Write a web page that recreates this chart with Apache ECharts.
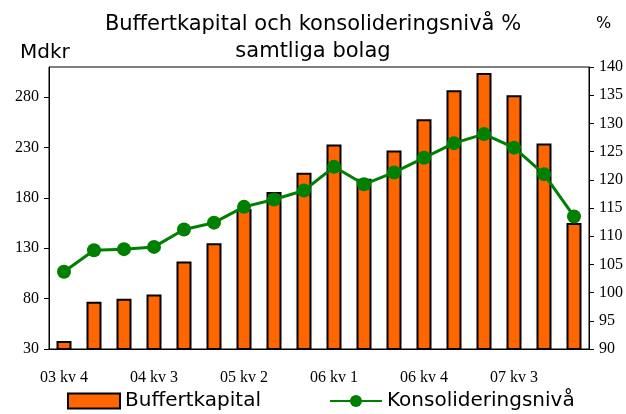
<!DOCTYPE html>
<html>
<head>
<meta charset="utf-8">
<script src="https://cdn.jsdelivr.net/npm/echarts@6/dist/echarts.min.js"></script>
<style>
  html, body { margin: 0; padding: 0; background: #fff; }
  #chart { width: 626px; height: 414px; }
</style>
</head>
<body>
<div id="chart"></div>
<script>
// quarters
const categories = [
  '03 kv 4', '04 kv 1', '04 kv 2', '04 kv 3', '04 kv 4', '05 kv 1', '05 kv 2', '05 kv 3', '05 kv 4',
  '06 kv 1', '06 kv 2', '06 kv 3', '06 kv 4', '07 kv 1', '07 kv 2', '07 kv 3', '07 kv 4', '08 kv 1'
]
// Mdkr
const buffertkapital = [38, 77, 80, 84, 117, 135, 169, 186, 205, 233, 199, 227, 258, 287, 304, 282, 234, 155]
// %
const konsolidering = [103.7, 107.5, 107.7, 108.1, 111.2, 112.4, 115.2, 116.5, 118.1, 122.3, 119.2, 121.3, 123.9, 126.5, 128.1, 125.7, 121.0, 113.5]

const labelFont = { fontFamily: 'Liberation Serif', fontSize: 16, color: '#000' }
const chart = echarts.init(document.getElementById('chart'))

chart.setOption({
  animation: false,
  title: [{
    text: 'Buffertkapital och konsolideringsnivå %\nsamtliga bolag',
    left: 308,
    top: 6,
    textAlign: 'center',
    textStyle: { fontFamily: 'DejaVu Sans', fontSize: 21, fontWeight: 'normal', color: '#000', lineHeight: 27 }
  }, {
    text: 'Mdkr',
    left: 15,
    top: 38,
    textStyle: { fontFamily: 'DejaVu Sans', fontSize: 20, fontWeight: 'normal', color: '#000' }
  }, {
    text: '%',
    left: 591,
    top: 11,
    textStyle: { fontFamily: 'DejaVu Sans', fontSize: 16, fontWeight: 'normal', color: '#000' }
  }],
  grid: {
    left: 49,
    right: 37,
    top: 67,
    bottom: 65,
    show: true,
    borderColor: '#000',
    borderWidth: 1
  },
  legend: {
    bottom: -2,
    left: 62,
    itemGap: 68,
    textStyle: { fontFamily: 'DejaVu Sans', fontSize: 20, color: '#000' },
    data: [
      { name: 'Buffertkapital', icon: 'rect', itemStyle: { color: '#FF6600', borderColor: '#000', borderWidth: 2 } },
      { name: 'Konsolideringsnivå' }
    ],
    itemWidth: 52,
    itemHeight: 15
  },
  xAxis: {
    type: 'category',
    data: categories,
    axisLine: { lineStyle: { color: '#000' } },
    axisTick: { interval: 0, length: 5, lineStyle: { color: '#000' } },
    axisLabel: Object.assign({ interval: 2, margin: 21 }, labelFont)
  },
  yAxis: [{
    type: 'value',
    min: 30,
    max: 310,
    interval: 50,
    axisLine: { show: true, lineStyle: { color: '#000' } },
    axisTick: { show: true, length: 5, lineStyle: { color: '#000' } },
    axisLabel: Object.assign({ showMaxLabel: false, margin: 10 }, labelFont),
    splitLine: { show: false }
  }, {
    type: 'value',
    min: 90,
    max: 140,
    interval: 5,
    axisLine: { show: true, lineStyle: { color: '#000' } },
    axisTick: { show: true, length: 5, lineStyle: { color: '#000' } },
    axisLabel: Object.assign({ margin: 10 }, labelFont),
    splitLine: { show: false }
  }],
  series: [{
    name: 'Buffertkapital',
    type: 'bar',
    data: buffertkapital,
    barWidth: '50%',
    itemStyle: {
      color: '#FF6600',
      borderColor: '#000',
      borderWidth: 2
    }
  }, {
    name: 'Konsolideringsnivå',
    type: 'line',
    yAxisIndex: 1,
    data: konsolidering,
    symbol: 'circle',
    symbolSize: 14,
    itemStyle: { color: '#008000' },
    lineStyle: { color: '#008000', width: 3 }
  }]
})
</script>
</body>
</html>
